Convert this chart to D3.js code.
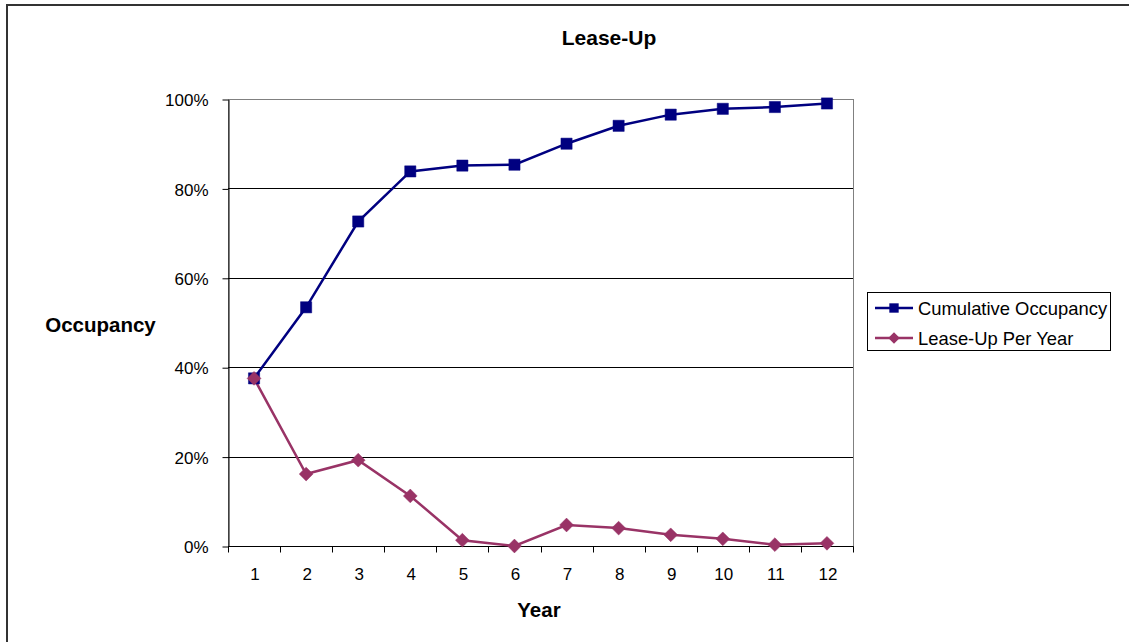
<!DOCTYPE html>
<html>
<head>
<meta charset="utf-8">
<script src="https://cdn.jsdelivr.net/npm/d3@7"></script>
<style>
  html, body { margin: 0; padding: 0; background: #fff; }
  svg { display: block; font-family: "Liberation Sans", Arial, sans-serif; }
</style>
</head>
<body>
<svg id="chart" width="1129" height="642"></svg>
<script>
// Lease-up schedule by year
const years = [1, 2, 3, 4, 5, 6, 7, 8, 9, 10, 11, 12];
const cumulativeOccupancy = [0.375, 0.534, 0.726, 0.838, 0.851, 0.853, 0.900, 0.940, 0.965, 0.978, 0.982, 0.990];
const leaseUpPerYear = [0.375, 0.161, 0.192, 0.112, 0.013, 0.000, 0.047, 0.040, 0.025, 0.016, 0.003, 0.006];
const yTicks = [0, 0.2, 0.4, 0.6, 0.8, 1.0];
const seriesNames = ["Cumulative Occupancy", "Lease-Up Per Year"];

const svg = d3.select("#chart");
const plot = { left: 228, right: 853, top: 99, bottom: 546 };
const navy = "#000080", plum = "#993366";
const FONT = "Liberation Sans, Arial, sans-serif";

// Outer chart frame
svg.append("rect")
  .attr("x", 7).attr("y", 5).attr("width", 1140).attr("height", 660)
  .attr("fill", "#fff").attr("stroke", "#333").attr("stroke-width", 2);

const x = d3.scaleBand().domain(years).range([plot.left, plot.right]);
const y = d3.scaleLinear().domain([0, 1]).range([plot.bottom, plot.top]);

// Plot area border (grey)
svg.append("rect")
  .attr("x", plot.left + 0.5).attr("y", plot.top + 0.5)
  .attr("width", plot.right - plot.left).attr("height", plot.bottom - plot.top)
  .attr("fill", "none").attr("stroke", "#808080").attr("stroke-width", 1);

// Horizontal gridlines
svg.append("g").selectAll("line")
  .data(yTicks.filter(t => t > 0 && t < 1))
  .join("line")
  .attr("x1", plot.left).attr("x2", plot.right)
  .attr("y1", d => Math.round(y(d)) + 0.5).attr("y2", d => Math.round(y(d)) + 0.5)
  .attr("stroke", "#000").attr("stroke-width", 1);

// Y axis
const yAxis = d3.axisLeft(y).tickValues(yTicks).tickFormat(d3.format(".0%"))
  .tickSizeInner(6).tickSizeOuter(0).tickPadding(14);
const gy = svg.append("g").attr("transform", `translate(${plot.left + 0.5},0.5)`).call(yAxis);
gy.attr("font-size", null).attr("font-family", null);
gy.select(".domain").attr("stroke", "#000");
gy.selectAll(".tick line").attr("stroke", "#000");
gy.selectAll(".tick text").attr("font-size", 17).attr("fill", "#000")
  .attr("font-family", FONT).attr("dy", "0.36em");

// X axis: ticks between categories
const gx = svg.append("g").attr("transform", `translate(0,${plot.bottom + 0.5})`);
gx.append("line").attr("x1", plot.left).attr("x2", plot.right + 0.5).attr("stroke", "#000");
const boundaries = years.map(d => x(d)).concat([x.range()[1]]);
gx.selectAll("line.tk").data(boundaries).join("line").attr("class", "tk")
  .attr("x1", d => Math.round(d) + 0.5).attr("x2", d => Math.round(d) + 0.5)
  .attr("y1", 0).attr("y2", 6).attr("stroke", "#000");
gx.selectAll("text").data(years).join("text")
  .attr("x", d => x(d) + x.bandwidth() / 2 + 1).attr("y", 33)
  .attr("text-anchor", "middle").attr("font-size", 17).text(d => d);

// Series lines and markers (diamond = square turned 45°)
const line = d3.line().x((d, i) => x(years[i]) + x.bandwidth() / 2).y(d => y(d));
const series = [
  { name: seriesNames[0], values: cumulativeOccupancy, color: navy, shape: d3.symbolSquare, size: 125, rot: 0 },
  { name: seriesNames[1], values: leaseUpPerYear, color: plum, shape: d3.symbolSquare, size: 95, rot: 45 }
];

series.forEach(s => {
  svg.append("path").datum(s.values).attr("d", line)
    .attr("fill", "none").attr("stroke", s.color).attr("stroke-width", 2.5);
});
series.forEach(s => {
  svg.append("g").selectAll("path").data(s.values).join("path")
    .attr("transform", (d, i) => `translate(${x(years[i]) + x.bandwidth() / 2},${y(d)}) rotate(${s.rot})`)
    .attr("d", d3.symbol().type(s.shape).size(s.size))
    .attr("fill", s.color).attr("stroke", s.color).attr("stroke-width", 0.5);
});

// Titles
svg.append("text").attr("x", 609).attr("y", 45).attr("text-anchor", "middle")
  .attr("font-size", 21).attr("font-weight", "bold").text("Lease-Up");
svg.append("text").attr("x", 100.5).attr("y", 332).attr("text-anchor", "middle")
  .attr("font-size", 20.5).attr("font-weight", "bold").text("Occupancy");
svg.append("text").attr("x", 539).attr("y", 617).attr("text-anchor", "middle")
  .attr("font-size", 20.5).attr("font-weight", "bold").text("Year");

// Legend
const legend = svg.append("g");
legend.append("rect").attr("x", 867.5).attr("y", 292.5).attr("width", 243).attr("height", 58)
  .attr("fill", "#fff").attr("stroke", "#000").attr("stroke-width", 1);
series.forEach((s, i) => {
  const cy = 308 + i * 30;
  legend.append("line").attr("x1", 875).attr("x2", 913).attr("y1", cy).attr("y2", cy)
    .attr("stroke", s.color).attr("stroke-width", 2.5);
  legend.append("path").attr("transform", `translate(894,${cy}) rotate(${s.rot})`)
    .attr("d", d3.symbol().type(s.shape).size(s.size * 0.7)).attr("fill", s.color);
  legend.append("text").attr("x", 918).attr("y", cy + 6.5).attr("font-size", 18.4).text(s.name);
});
</script>
</body>
</html>
